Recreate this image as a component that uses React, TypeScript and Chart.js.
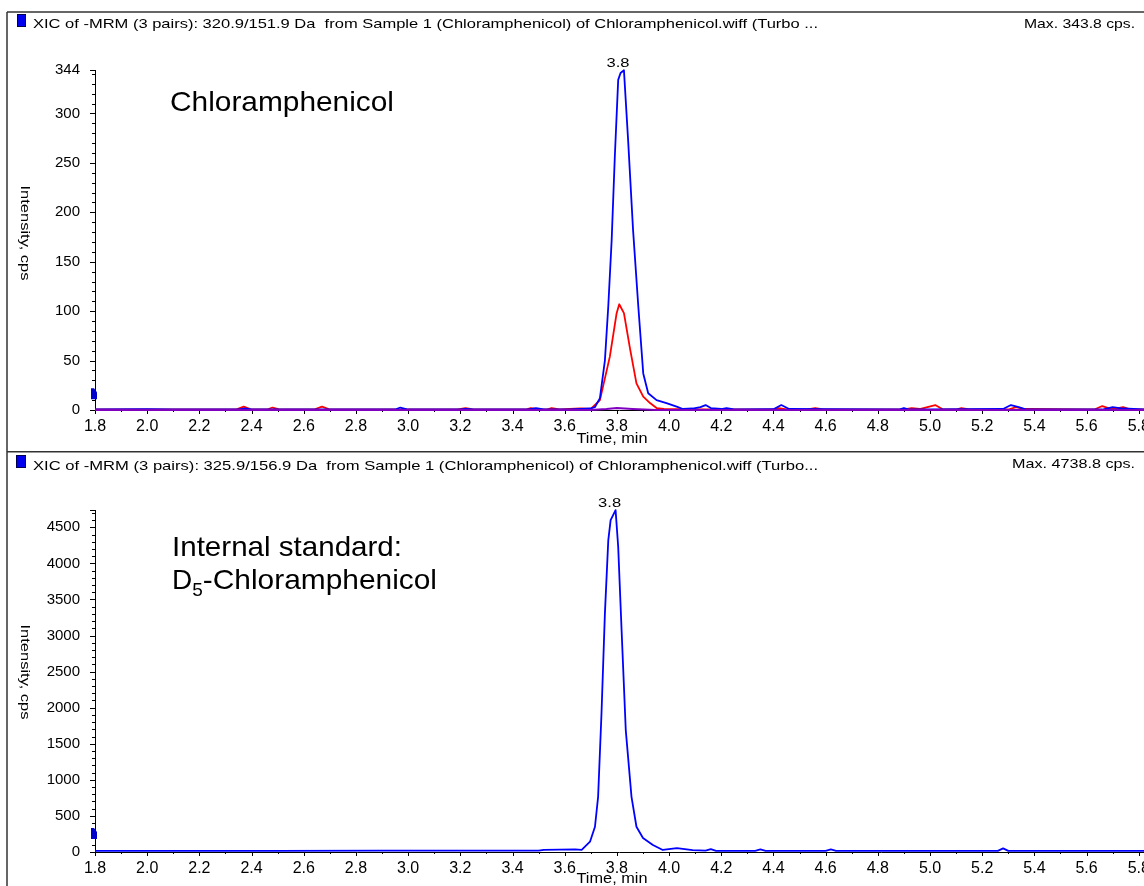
import React, { useEffect, useRef } from 'react';
import { Chart, registerables } from 'chart.js';

Chart.register(...registerables);

// ---------- data ----------
const X_MIN = 1.8;
const X_MAX = 5.82;
const X_TICK_LABELS = [1.8, 2.0, 2.2, 2.4, 2.6, 2.8, 3.0, 3.2, 3.4, 3.6, 3.8, 4.0, 4.2, 4.4, 4.6, 4.8, 5.0, 5.2, 5.4, 5.6, 5.8];

const TOP_Y_MAX = 344;
const TOP_Y_LABELS = [0, 50, 100, 150, 200, 250, 300, 344];
const TOP_Y_MINOR_STEP = 10;

const BOTTOM_Y_MAX = 4740;
const BOTTOM_Y_LABELS = [0, 500, 1000, 1500, 2000, 2500, 3000, 3500, 4000, 4500];
const BOTTOM_Y_MINOR_STEP = 100;

// Top panel: 320.9/151.9 (blue) and companion transitions
const TOP_BLUE_T = [1.80, 2.00, 2.10, 2.35, 2.37, 2.40, 2.60, 2.95, 2.97, 3.00, 3.20, 3.22, 3.25, 3.46, 3.49, 3.52, 3.62, 3.66, 3.697, 3.716, 3.735, 3.754, 3.767, 3.780, 3.792, 3.805, 3.814, 3.827, 3.843, 3.862, 3.882, 3.901, 3.920, 3.952, 3.990, 4.029, 4.053, 4.09, 4.12, 4.14, 4.16, 4.20, 4.22, 4.25, 4.40, 4.43, 4.46, 4.60, 4.88, 4.90, 4.92, 5.00, 5.28, 5.31, 5.34, 5.37, 5.66, 5.70, 5.74, 5.82];
const TOP_BLUE_V = [0.5, 0.8, 0.5, 0.5, 1.5, 0.5, 0.6, 0.5, 2.5, 0.5, 0.5, 1.2, 0.5, 0.5, 1.8, 0.5, 0.6, 1.2, 1.5, 3, 12, 50, 105, 172, 256, 334, 341, 343.8, 273, 182, 105, 37, 17, 10, 7, 3.5, 1, 1.5, 3, 5, 2, 1, 2, 0.5, 0.8, 5, 1, 0.8, 0.5, 2, 0.5, 0.7, 1, 5, 3, 0.5, 0.5, 3, 1.5, 0.5];

const TOP_RED_T = [1.80, 2.34, 2.37, 2.40, 2.46, 2.48, 2.51, 2.64, 2.67, 2.70, 3.19, 3.22, 3.25, 3.45, 3.47, 3.50, 3.53, 3.55, 3.58, 3.66, 3.70, 3.735, 3.773, 3.799, 3.809, 3.827, 3.851, 3.875, 3.901, 3.927, 3.952, 3.98, 4.14, 4.40, 4.42, 4.45, 4.53, 4.56, 4.59, 4.90, 4.93, 4.96, 4.99, 5.02, 5.05, 5.10, 5.12, 5.15, 5.30, 5.33, 5.36, 5.63, 5.66, 5.69, 5.72, 5.74, 5.77, 5.82];
const TOP_RED_V = [0.5, 0.5, 3.5, 0.5, 0.5, 2.5, 0.5, 0.5, 3.5, 0.5, 0.5, 2, 0.5, 0.5, 2, 0.5, 0.5, 2, 0.5, 1.5, 1, 10, 54, 98, 107, 98, 61, 27, 13.5, 7, 2, 1, 0.5, 0.5, 2, 0.5, 0.5, 2, 0.5, 0.5, 2, 1, 3, 5, 0.5, 0.5, 2, 0.5, 0.5, 3, 1, 0.5, 4, 1.5, 2, 3, 0.5, 0.5];

const TOP_PURPLE_T = [1.80, 3.70, 3.76, 3.80, 3.86, 3.95, 5.82];
const TOP_PURPLE_V = [0, 0, 1, 2, 1, 0, 0];

// Bottom panel: 325.9/156.9 (internal standard)
const BOTTOM_T = [1.80, 2.50, 2.90, 3.50, 3.52, 3.58, 3.64, 3.665, 3.697, 3.716, 3.728, 3.741, 3.754, 3.767, 3.776, 3.795, 3.805, 3.818, 3.834, 3.856, 3.875, 3.900, 3.938, 3.976, 4.03, 4.06, 4.09, 4.14, 4.16, 4.18, 4.33, 4.35, 4.37, 4.60, 4.62, 4.64, 5.26, 5.28, 5.30, 5.82];
const BOTTOM_V = [15, 15, 18, 20, 30, 32, 35, 30, 143, 350, 765, 1920, 3300, 4320, 4600, 4738.8, 4227, 3074, 1690, 765, 350, 194, 97, 28, 55, 40, 25, 20, 40, 15, 15, 35, 15, 15, 35, 15, 15, 50, 15, 15];

const TOP_MARKER_VALUE = 16;
const BOTTOM_MARKER_VALUE = 250;

// ---------- helpers ----------
const FONT = 'Liberation Sans, Arial, Helvetica, sans-serif';

function fitText(ctx: CanvasRenderingContext2D, text: string, x: number, y: number, size: number, width: number, align: CanvasTextAlign = 'left', baseline: CanvasTextBaseline = 'alphabetic') {
  ctx.save();
  ctx.font = `${size}px ${FONT}`;
  const w = ctx.measureText(text).width;
  const s = width / w;
  ctx.translate(x, y);
  ctx.scale(s, 1);
  ctx.textAlign = align;
  ctx.textBaseline = baseline;
  ctx.fillStyle = '#000';
  ctx.fillText(text, 0, 0);
  ctx.restore();
}

type Series = { t: number[]; v: number[]; color: string; width: number };

type PanelCfg = {
  height: number;
  padTop: number;
  xAxisH: number;
  yMax: number;
  yLabels: number[];
  yMinor: number;
  series: Series[];
  markerValue: number;
  topFrameY: number | null;
  sepY: number | null;
  square: [number, number, number, number];
  header: string;
  headerBaseline: number;
  headerW: number;
  maxText: string;
  maxBaseline: number;
  maxW: number;
  titleCY: number;
  timeY: number;
  annot: (ctx: CanvasRenderingContext2D) => void;
};

function makePlugin(cfg: PanelCfg) {
  return {
    id: 'panelDeco',
    beforeDatasetsDraw(chart: any) {
      const { ctx, chartArea: a, scales } = chart;
      const x = scales.x;
      const y = scales.y;
      ctx.save();
      ctx.strokeStyle = '#000';
      ctx.lineWidth = 1;
      const yTop = y.getPixelForValue(cfg.yMax);
      const y0 = y.getPixelForValue(0);
      // axis lines
      ctx.beginPath();
      ctx.moveTo(a.left + 0.5, yTop);
      ctx.lineTo(a.left + 0.5, y0 + 4);
      ctx.stroke();
      ctx.beginPath();
      ctx.moveTo(a.left, Math.round(y0) + 0.5);
      ctx.lineTo(a.right, Math.round(y0) + 0.5);
      ctx.stroke();
      // y ticks
      for (let v = 0; v <= cfg.yMax; v += cfg.yMinor) {
        const major = cfg.yLabels.includes(v);
        const py = Math.round(y.getPixelForValue(v)) + 0.5;
        ctx.beginPath();
        ctx.moveTo(a.left, py);
        ctx.lineTo(a.left - (major ? 5 : 3), py);
        ctx.stroke();
      }
      const pTop = Math.round(yTop) + 0.5;
      ctx.beginPath();
      ctx.moveTo(a.left, pTop);
      ctx.lineTo(a.left - 5, pTop);
      ctx.stroke();
      // x ticks
      for (let i = 0; i < X_TICK_LABELS.length; i++) {
        const v = X_TICK_LABELS[i];
        const px = Math.round(x.getPixelForValue(v)) + 0.5;
        ctx.beginPath();
        ctx.moveTo(px, y0);
        ctx.lineTo(px, y0 + 4);
        ctx.stroke();
        if (i < X_TICK_LABELS.length - 1) {
          const mid = (v + X_TICK_LABELS[i + 1]) / 2;
          const pm = Math.round(x.getPixelForValue(mid)) + 0.5;
          ctx.beginPath();
          ctx.moveTo(pm, y0);
          ctx.lineTo(pm, y0 + 2);
          ctx.stroke();
        }
      }
      ctx.restore();
    },
    afterDraw(chart: any) {
      const { ctx, scales, width } = chart;
      const x = scales.x;
      const y = scales.y;
      ctx.save();
      // frame
      ctx.strokeStyle = '#333';
      ctx.lineWidth = 1.5;
      if (cfg.topFrameY !== null) {
        ctx.beginPath();
        ctx.moveTo(7, cfg.topFrameY);
        ctx.lineTo(width, cfg.topFrameY);
        ctx.stroke();
      }
      if (cfg.sepY !== null) {
        ctx.beginPath();
        ctx.moveTo(7, cfg.sepY);
        ctx.lineTo(width, cfg.sepY);
        ctx.stroke();
      }
      ctx.beginPath();
      ctx.moveTo(7, cfg.topFrameY ?? 0);
      ctx.lineTo(7, chart.height);
      ctx.stroke();
      // header square
      const [sx, sy, sw, sh] = cfg.square;
      ctx.fillStyle = '#0000ee';
      ctx.fillRect(sx, sy, sw, sh);
      ctx.strokeStyle = '#000050';
      ctx.lineWidth = 1;
      ctx.strokeRect(sx + 0.5, sy + 0.5, sw - 1, sh - 1);
      // header texts
      fitText(ctx, cfg.header, 33, cfg.headerBaseline, 13.5, cfg.headerW, 'left');
      fitText(ctx, cfg.maxText, 1135, cfg.maxBaseline, 13.5, cfg.maxW, 'right');
      // y title (clockwise)
      ctx.save();
      ctx.translate(24, cfg.titleCY);
      ctx.rotate(Math.PI / 2);
      fitText(ctx, 'Intensity, cps', 0, 0, 12.5, 95, 'center', 'middle');
      ctx.restore();
      // x title
      fitText(ctx, 'Time, min', 612, cfg.timeY, 14, 71, 'center', 'middle');
      // marker on y axis
      const my = y.getPixelForValue(cfg.markerValue);
      ctx.fillStyle = '#0000cc';
      ctx.beginPath();
      ctx.moveTo(91, my - 6);
      ctx.lineTo(94, my - 6);
      ctx.lineTo(97, my - 2);
      ctx.lineTo(97, my + 5);
      ctx.lineTo(91, my + 5);
      ctx.closePath();
      ctx.fill();
      // peak label from blue series max
      const s0 = cfg.series.find((s) => s.color === '#0000ff') || cfg.series[0];
      let mi = 0;
      for (let i = 1; i < s0.v.length; i++) if (s0.v[i] > s0.v[mi]) mi = i;
      const px = x.getPixelForValue(s0.t[mi]);
      const py = y.getPixelForValue(s0.v[mi]);
      fitText(ctx, '3.8', px - 6, py - 7, 13.5, 23, 'center', 'middle');
      // annotations
      cfg.annot(ctx);
      ctx.restore();
    },
  };
}

function Panel({ cfg }: { cfg: PanelCfg }) {
  const ref = useRef<HTMLCanvasElement | null>(null);
  useEffect(() => {
    if (!ref.current) return;
    const chart = new Chart(ref.current, {
      type: 'line',
      data: {
        datasets: cfg.series.map((s) => ({
          data: s.t.map((t, i) => ({ x: t, y: s.v[i] })),
          borderColor: s.color,
          borderWidth: s.width,
          pointRadius: 0,
          tension: 0,
          fill: false,
          borderJoinStyle: 'round' as const,
          clip: false as any,
        })),
      },
      options: {
        responsive: false,
        maintainAspectRatio: false,
        animation: false,
        events: [],
        layout: { padding: { top: cfg.padTop, left: 0, right: 0, bottom: 0 } },
        plugins: { legend: { display: false }, tooltip: { enabled: false } },
        scales: {
          x: {
            type: 'linear',
            min: X_MIN,
            max: X_MAX,
            grid: { display: false, drawTicks: false },
            border: { display: false },
            afterBuildTicks: (s: any) => {
              s.ticks = X_TICK_LABELS.map((v) => ({ value: v }));
            },
            afterFit: (s: any) => {
              s.height = cfg.xAxisH;
              s.paddingLeft = 0;
              s.paddingRight = 0;
            },
            ticks: {
              autoSkip: false,
              maxRotation: 0,
              minRotation: 0,
              padding: 7,
              color: '#000',
              font: { family: FONT, size: 16 },
              callback: (v: any) => Number(v).toFixed(1),
            },
          },
          y: {
            type: 'linear',
            min: 0,
            max: cfg.yMax,
            grid: { display: false, drawTicks: false },
            border: { display: false },
            afterBuildTicks: (s: any) => {
              s.ticks = cfg.yLabels.map((v) => ({ value: v }));
            },
            afterFit: (s: any) => {
              s.width = 95;
            },
            ticks: {
              autoSkip: false,
              padding: 15,
              color: '#000',
              font: { family: FONT, size: 15 },
              callback: (v: any) => String(v),
            },
          },
        },
      },
      plugins: [makePlugin(cfg)],
    });
    return () => chart.destroy();
  }, [cfg]);
  return <canvas ref={ref} width={1144} height={cfg.height} style={{ display: 'block', width: 1144, height: cfg.height }} />;
}

const TOP_CFG: PanelCfg = {
  height: 451,
  padTop: 70,
  xAxisH: 41,
  yMax: TOP_Y_MAX,
  yLabels: TOP_Y_LABELS,
  yMinor: TOP_Y_MINOR_STEP,
  series: [
    { t: TOP_PURPLE_T, v: TOP_PURPLE_V, color: '#8000c0', width: 2 },
    { t: TOP_BLUE_T, v: TOP_BLUE_V, color: '#0000ff', width: 1.8 },
    { t: TOP_RED_T, v: TOP_RED_V, color: '#ff0000', width: 1.8 },
  ],
  markerValue: TOP_MARKER_VALUE,
  topFrameY: 12,
  sepY: null,
  square: [17, 14, 9, 13],
  header: 'XIC of -MRM (3 pairs): 320.9/151.9 Da  from Sample 1 (Chloramphenicol) of Chloramphenicol.wiff (Turbo ...',
  headerBaseline: 28,
  headerW: 785,
  maxText: 'Max. 343.8 cps.',
  maxBaseline: 28,
  maxW: 111,
  titleCY: 233,
  timeY: 439,
  annot: (ctx) => {
    fitText(ctx, 'Chloramphenicol', 170, 111, 28, 224, 'left');
  },
};

const BOTTOM_CFG: PanelCfg = {
  height: 435,
  padTop: 59,
  xAxisH: 34,
  yMax: BOTTOM_Y_MAX,
  yLabels: BOTTOM_Y_LABELS,
  yMinor: BOTTOM_Y_MINOR_STEP,
  series: [{ t: BOTTOM_T, v: BOTTOM_V, color: '#0000ff', width: 1.8 }],
  markerValue: BOTTOM_MARKER_VALUE,
  topFrameY: null,
  sepY: 0.75,
  square: [16, 4, 10, 13],
  header: 'XIC of -MRM (3 pairs): 325.9/156.9 Da  from Sample 1 (Chloramphenicol) of Chloramphenicol.wiff (Turbo...',
  headerBaseline: 19,
  headerW: 785,
  maxText: 'Max. 4738.8 cps.',
  maxBaseline: 17,
  maxW: 123,
  titleCY: 221,
  timeY: 428,
  annot: (ctx) => {
    fitText(ctx, 'Internal standard:', 172, 105, 28, 230, 'left');
    ctx.save();
    ctx.fillStyle = '#000';
    ctx.font = `28px ${FONT}`;
    ctx.textAlign = 'left';
    ctx.textBaseline = 'alphabetic';
    ctx.fillText('D', 172, 138);
    const dW = ctx.measureText('D').width;
    ctx.font = `19px ${FONT}`;
    ctx.fillText('5', 172 + dW, 145);
    const fW = ctx.measureText('5').width;
    ctx.restore();
    const startX = 172 + dW + fW;
    fitText(ctx, '-Chloramphenicol', startX, 138, 28, 437 - startX, 'left');
  },
};

export default function App() {
  useEffect(() => {
    document.body.style.margin = '0';
  }, []);
  return (
    <div style={{ position: 'fixed', left: 0, top: 0, width: 1144, height: 886, overflow: 'hidden', background: '#fff' }}>
      <Panel cfg={TOP_CFG} />
      <Panel cfg={BOTTOM_CFG} />
    </div>
  );
}
